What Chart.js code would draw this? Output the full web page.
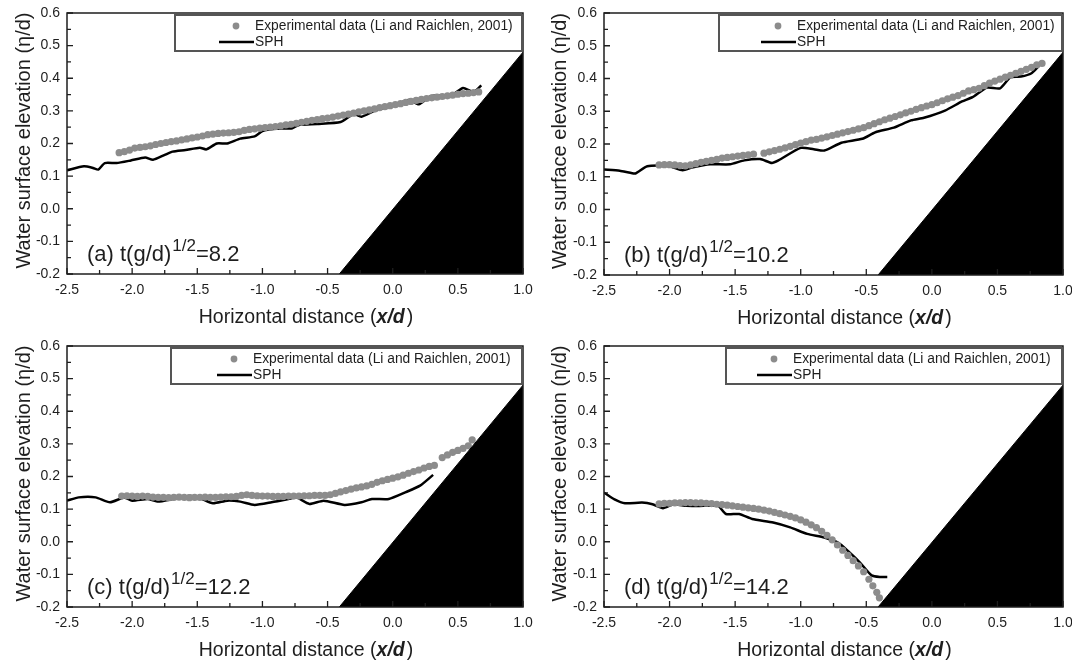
<!DOCTYPE html>
<html>
<head>
<meta charset="utf-8">
<script src="https://cdn.jsdelivr.net/npm/chart.js@4.4.1/dist/chart.umd.min.js"></script>
<style>
html, body { margin: 0; padding: 0; background: #fff; }
#wrap { position: relative; width: 1072px; height: 663px; overflow: hidden; }
.panel { position: absolute; width: 536px; height: 331px; }
</style>
</head>
<body>
<div id="wrap">
  <div class="panel" style="left:0;top:0"><canvas id="pa" width="536" height="331"></canvas></div>
  <div class="panel" style="left:536px;top:0"><canvas id="pb" width="536" height="331"></canvas></div>
  <div class="panel" style="left:0;top:333px"><canvas id="pc" width="536" height="331"></canvas></div>
  <div class="panel" style="left:536px;top:333px"><canvas id="pd" width="536" height="331"></canvas></div>
</div>
<script>
// axis ticks
const xTicks = [-2.5, -2.0, -1.5, -1.0, -0.5, 0.0, 0.5, 1.0];
const yTicks = [-0.2, -0.1, 0.0, 0.1, 0.2, 0.3, 0.4, 0.5, 0.6];

const panelTags = ["(a)", "(b)", "(c)", "(d)"];
const panelTimes = ["8.2", "10.2", "12.2", "14.2"];
const seriesNames = ["Experimental data (Li and Raichlen, 2001)", "SPH"];

// beach slope (same in every panel)
const beachX = [-0.41, 1.0];
const beachY = [-0.2, 0.48];

// (a) t(g/d)^1/2 = 8.2
const expAx = [-2.10,-2.06,-2.02,-1.98,-1.94,-1.90,-1.86,-1.82,-1.78,-1.74,-1.70,-1.66,-1.62,-1.58,-1.54,-1.50,-1.46,-1.42,-1.38,-1.34,
  -1.30,-1.26,-1.22,-1.18,-1.14,-1.10,-1.06,-1.02,-0.98,-0.94,-0.90,-0.86,-0.82,-0.78,-0.74,-0.70,-0.66,-0.62,-0.58,-0.54,
  -0.50,-0.46,-0.42,-0.38,-0.34,-0.30,-0.26,-0.22,-0.18,-0.14,-0.10,-0.06,-0.02,0.02,0.06,0.10,0.14,0.18,0.22,0.26,
  0.30,0.34,0.38,0.42,0.46,0.50,0.54,0.58,0.62,0.66];
const expAy = [0.172,0.175,0.180,0.186,0.188,0.190,0.193,0.197,0.200,0.203,0.206,0.208,0.211,0.214,0.217,0.220,0.223,0.227,0.229,0.231,
  0.232,0.233,0.234,0.236,0.240,0.243,0.245,0.247,0.249,0.250,0.252,0.254,0.257,0.259,0.262,0.265,0.268,0.271,0.273,0.276,
  0.278,0.281,0.284,0.287,0.290,0.293,0.297,0.300,0.303,0.306,0.310,0.313,0.316,0.319,0.322,0.326,0.329,0.332,0.335,0.338,
  0.340,0.342,0.344,0.346,0.348,0.351,0.353,0.354,0.356,0.358];
const sphAx = [-2.50,-2.37,-2.30,-2.26,-2.21,-2.12,-2.01,-1.90,-1.84,-1.75,-1.69,-1.59,-1.48,-1.43,-1.35,-1.27,-1.17,-1.06,-1.00,-0.90,
  -0.77,-0.72,-0.58,-0.40,-0.30,-0.24,-0.14,-0.03,0.06,0.13,0.20,0.29,0.39,0.46,0.54,0.60,0.63,0.68];
const sphAy = [0.118,0.130,0.125,0.120,0.140,0.140,0.148,0.157,0.150,0.165,0.175,0.180,0.187,0.182,0.200,0.200,0.215,0.222,0.238,0.245,
  0.247,0.257,0.260,0.266,0.290,0.282,0.300,0.312,0.325,0.334,0.320,0.345,0.347,0.350,0.370,0.360,0.360,0.378];

// (b) t(g/d)^1/2 = 10.2
const expBx = [-2.08,-2.04,-2.00,-1.96,-1.92,-1.88,-1.84,-1.80,-1.76,-1.72,-1.68,-1.64,-1.60,-1.56,-1.52,-1.48,-1.44,-1.40,-1.36,
  -1.28,-1.24,-1.20,-1.16,-1.12,-1.08,-1.04,-1.00,-0.96,-0.92,-0.88,-0.84,-0.80,-0.76,-0.72,-0.68,-0.64,-0.60,-0.56,-0.52,
  -0.48,-0.44,-0.40,-0.36,-0.32,-0.28,-0.24,-0.20,-0.16,-0.12,-0.08,-0.04,0.00,0.04,0.08,0.12,0.16,0.20,0.24,0.28,
  0.32,0.36,0.40,0.44,0.48,0.52,0.56,0.60,0.64,0.68,0.72,0.76,0.80,0.84];
const expBy = [0.136,0.137,0.137,0.136,0.134,0.133,0.136,0.140,0.144,0.147,0.150,0.153,0.157,0.159,0.161,0.163,0.165,0.167,0.169,
  0.172,0.176,0.180,0.184,0.188,0.193,0.198,0.203,0.207,0.212,0.214,0.218,0.222,0.226,0.230,0.234,0.238,0.242,0.246,0.250,
  0.256,0.262,0.268,0.274,0.279,0.284,0.289,0.295,0.300,0.306,0.311,0.316,0.320,0.326,0.332,0.338,0.343,0.348,0.355,0.362,
  0.366,0.370,0.378,0.386,0.392,0.398,0.404,0.410,0.416,0.422,0.428,0.434,0.442,0.446];
const sphBx = [-2.50,-2.38,-2.30,-2.26,-2.17,-2.01,-1.90,-1.83,-1.69,-1.54,-1.43,-1.31,-1.22,-1.17,-1.00,-0.90,-0.82,-0.69,-0.53,-0.43,
  -0.29,-0.16,-0.06,0.10,0.23,0.31,0.42,0.52,0.60,0.68,0.76,0.82];
const sphBy = [0.122,0.118,0.112,0.110,0.132,0.133,0.120,0.128,0.138,0.138,0.150,0.154,0.142,0.150,0.188,0.184,0.180,0.204,0.216,0.236,
  0.250,0.272,0.280,0.302,0.330,0.343,0.372,0.370,0.404,0.406,0.416,0.440];

// (c) t(g/d)^1/2 = 12.2
const expCx = [-2.08,-2.04,-2.00,-1.96,-1.92,-1.88,-1.84,-1.80,-1.76,-1.72,-1.68,-1.64,-1.60,-1.56,-1.52,-1.48,-1.44,-1.40,-1.36,-1.32,
  -1.28,-1.24,-1.20,-1.16,-1.12,-1.08,-1.04,-1.00,-0.96,-0.92,-0.88,-0.84,-0.80,-0.76,-0.72,-0.68,-0.64,-0.60,-0.56,-0.52,
  -0.48,-0.44,-0.40,-0.36,-0.32,-0.28,-0.24,-0.20,-0.16,-0.12,-0.08,-0.04,0.00,0.04,0.08,0.12,0.16,0.20,0.24,0.28,
  0.32,0.38,0.42,0.46,0.50,0.54,0.58,0.61];
const expCy = [0.140,0.141,0.140,0.139,0.140,0.139,0.137,0.136,0.136,0.135,0.136,0.137,0.136,0.135,0.136,0.136,0.137,0.136,0.136,0.137,
  0.138,0.138,0.139,0.142,0.144,0.142,0.141,0.140,0.140,0.139,0.139,0.139,0.140,0.140,0.140,0.141,0.141,0.142,0.142,0.142,
  0.144,0.148,0.153,0.157,0.161,0.165,0.168,0.171,0.176,0.182,0.187,0.191,0.195,0.199,0.204,0.210,0.215,0.220,0.226,0.231,
  0.234,0.258,0.266,0.274,0.280,0.286,0.294,0.312];
const sphCx = [-2.50,-2.41,-2.28,-2.17,-2.06,-2.00,-1.88,-1.80,-1.69,-1.56,-1.48,-1.38,-1.27,-1.17,-1.06,-0.93,-0.80,-0.74,-0.64,-0.53,
  -0.37,-0.24,-0.16,-0.03,0.10,0.21,0.31];
const sphCy = [0.126,0.136,0.136,0.121,0.136,0.126,0.131,0.123,0.131,0.141,0.134,0.118,0.126,0.123,0.113,0.121,0.131,0.136,0.116,0.126,
  0.113,0.121,0.131,0.131,0.152,0.172,0.205];

// (d) t(g/d)^1/2 = 14.2
const expDx = [-2.08,-2.04,-2.00,-1.96,-1.92,-1.88,-1.84,-1.80,-1.76,-1.72,-1.68,-1.64,-1.60,-1.56,-1.52,-1.48,-1.44,-1.40,-1.36,-1.32,
  -1.28,-1.24,-1.20,-1.16,-1.12,-1.08,-1.04,-1.00,-0.96,-0.92,-0.88,-0.84,-0.80,-0.76,-0.72,-0.68,-0.64,-0.60,-0.56,-0.52,
  -0.48,-0.45,-0.42,-0.40];
const expDy = [0.116,0.118,0.118,0.119,0.119,0.120,0.120,0.119,0.119,0.118,0.117,0.115,0.114,0.112,0.110,0.108,0.106,0.104,0.102,0.100,
  0.097,0.094,0.090,0.086,0.082,0.078,0.073,0.067,0.060,0.052,0.043,0.032,0.020,0.006,-0.010,-0.026,-0.042,-0.058,-0.074,-0.092,
  -0.115,-0.135,-0.155,-0.172];
const sphDx = [-2.50,-2.42,-2.34,-2.21,-2.13,-2.05,-1.97,-1.87,-1.74,-1.63,-1.57,-1.47,-1.37,-1.21,-1.08,-0.95,-0.82,-0.71,-0.63,-0.55,
  -0.46,-0.39,-0.34];
const sphDy = [0.151,0.130,0.118,0.120,0.115,0.103,0.115,0.110,0.110,0.110,0.085,0.085,0.070,0.059,0.044,0.024,0.013,-0.004,-0.032,-0.063,
  -0.103,-0.108,-0.108];

const FONT = "'Liberation Sans', Arial, Helvetica, sans-serif";
const INK = "#1e1e1e";
const DOT = "#8c8c8c";

function zip(xs, ys) {
    return xs.map((x, i) => ({ x: x, y: ys[i] }));
}

function fmt(v) {
    if (Math.abs(v) < 1e-9) return "0.0";
    return v.toFixed(1);
}

// frame, inward ticks, legend, axis titles and panel label
const decorPlugin = {
    id: "decor",
    afterDraw(chart, args, opts) {
        const ctx = chart.ctx;
        const a = chart.chartArea;
        const xs = chart.scales.x;
        const ys = chart.scales.y;
        ctx.save();

        // box
        ctx.strokeStyle = INK;
        ctx.lineWidth = 1.5;
        ctx.strokeRect(a.left, a.top, a.right - a.left, a.bottom - a.top);

        // ticks pointing inside
        ctx.lineWidth = 1.3;
        ctx.beginPath();
        for (let i = 0; i < xTicks.length; i++) {
            const px = xs.getPixelForValue(xTicks[i]);
            ctx.moveTo(px, a.bottom);
            ctx.lineTo(px, a.bottom - 6);
            if (i < xTicks.length - 1) {
                const mx = xs.getPixelForValue((xTicks[i] + xTicks[i + 1]) / 2);
                ctx.moveTo(mx, a.bottom);
                ctx.lineTo(mx, a.bottom - 4);
            }
        }
        for (let i = 0; i < yTicks.length; i++) {
            const py = ys.getPixelForValue(yTicks[i]);
            ctx.moveTo(a.left, py);
            ctx.lineTo(a.left + 6, py);
            if (i < yTicks.length - 1) {
                const my = ys.getPixelForValue((yTicks[i] + yTicks[i + 1]) / 2);
                ctx.moveTo(a.left, my);
                ctx.lineTo(a.left + 4, my);
            }
        }
        ctx.stroke();

        // legend
        const lx = opts.legendLeft;
        const tx0 = opts.legendText;
        const lt = a.top + 2;
        const lr = a.right - 1;
        const lb = a.top + 38;
        ctx.fillStyle = "#fff";
        ctx.fillRect(lx, lt, lr - lx, lb - lt);
        ctx.strokeStyle = "#555";
        ctx.lineWidth = 2;
        ctx.strokeRect(lx, lt, lr - lx, lb - lt);
        ctx.fillStyle = DOT;
        ctx.beginPath();
        ctx.arc(tx0 - 19, lt + 11, 3.4, 0, Math.PI * 2);
        ctx.fill();
        ctx.strokeStyle = "#000";
        ctx.lineWidth = 2.6;
        ctx.beginPath();
        ctx.moveTo(tx0 - 36, lt + 27);
        ctx.lineTo(tx0 - 1, lt + 27);
        ctx.stroke();
        ctx.fillStyle = INK;
        ctx.font = "13.8px " + FONT;
        ctx.textAlign = "left";
        ctx.textBaseline = "middle";
        ctx.fillText(seriesNames[0], tx0, lt + 11);
        ctx.fillText(seriesNames[1], tx0, lt + 27);

        // y axis title
        ctx.save();
        ctx.translate(24, (a.top + a.bottom) / 2 - 3);
        ctx.rotate(-Math.PI / 2);
        ctx.font = "20px " + FONT;
        ctx.textAlign = "center";
        ctx.textBaseline = "middle";
        ctx.fillText("Water surface elevation (\u03b7/d)", 0, 0);
        ctx.restore();

        // x axis title with bold italic x/d
        const p1 = "Horizontal distance (";
        const p2 = "x/d";
        const p3 = ")";
        const fN = "19.5px " + FONT;
        const fB = "italic bold 19.5px " + FONT;
        ctx.font = fN;
        const w1 = ctx.measureText(p1).width;
        const w3 = ctx.measureText(p3).width;
        ctx.font = fB;
        const w2 = ctx.measureText(p2).width;
        let tx = (a.left + a.right) / 2 + 11 - (w1 + w2 + w3 + 2) / 2;
        const ty = a.bottom + 49;
        ctx.textBaseline = "alphabetic";
        ctx.font = fN;
        ctx.fillText(p1, tx, ty);
        ctx.font = fB;
        ctx.fillText(p2, tx + w1, ty);
        ctx.font = fN;
        ctx.fillText(p3, tx + w1 + w2 + 2, ty);

        // panel label t(g/d)^1/2 = ...
        let px = a.left + 20;
        const py = a.bottom - 13;
        const fL = "22px " + FONT;
        const fS = "17px " + FONT;
        ctx.font = fL;
        const s1 = opts.tag + " t(g/d)";
        ctx.fillText(s1, px, py);
        px += ctx.measureText(s1).width + 1;
        ctx.font = fS;
        ctx.fillText("1/2", px, py - 10);
        px += ctx.measureText("1/2").width;
        ctx.font = fL;
        ctx.fillText("=" + opts.time, px, py);

        ctx.restore();
    }
};

function makePanel(canvasId, idx, expX, expY, sphX, sphY, geo) {
    const ctx = document.getElementById(canvasId).getContext("2d");
    return new Chart(ctx, {
        type: "scatter",
        data: {
            datasets: [
                {
                    label: "beach",
                    data: zip(beachX, beachY),
                    showLine: true,
                    fill: "start",
                    backgroundColor: "#000",
                    borderColor: "#000",
                    borderWidth: 1,
                    pointRadius: 0
                },
                {
                    label: seriesNames[0],
                    data: zip(expX, expY),
                    pointRadius: 3.6,
                    pointBackgroundColor: DOT,
                    pointBorderWidth: 0,
                    borderColor: DOT
                },
                {
                    label: seriesNames[1],
                    data: zip(sphX, sphY),
                    showLine: true,
                    tension: 0.2,
                    borderColor: "#000",
                    borderWidth: 2.5,
                    pointRadius: 0
                }
            ]
        },
        options: {
            responsive: false,
            animation: false,
            events: [],
            layout: { padding: { left: 0, right: geo.R, top: 13, bottom: 0 } },
            plugins: {
                legend: { display: false },
                tooltip: { enabled: false },
                decor: {
                    legendLeft: geo.legendLeft,
                    legendText: geo.legendText,
                    tag: panelTags[idx],
                    time: panelTimes[idx]
                }
            },
            scales: {
                x: {
                    type: "linear",
                    min: xTicks[0],
                    max: xTicks[xTicks.length - 1],
                    grid: { display: false, drawTicks: false },
                    border: { display: false },
                    afterBuildTicks: s => { s.ticks = xTicks.map(v => ({ value: v })); },
                    afterFit: s => {
                        s.height = geo.H;
                        s.paddingLeft = 0;
                        s.paddingRight = 0;
                    },
                    ticks: {
                        autoSkip: false,
                        maxRotation: 0,
                        padding: 8,
                        color: INK,
                        font: { family: FONT, size: 14 },
                        callback: v => fmt(v)
                    }
                },
                y: {
                    type: "linear",
                    min: yTicks[0],
                    max: yTicks[yTicks.length - 1],
                    grid: { display: false, drawTicks: false },
                    border: { display: false },
                    afterBuildTicks: s => { s.ticks = yTicks.map(v => ({ value: v })); },
                    afterFit: s => {
                        s.width = geo.L;
                        s.paddingTop = 0;
                        s.paddingBottom = 0;
                    },
                    ticks: {
                        padding: 7,
                        color: INK,
                        font: { family: FONT, size: 14 },
                        callback: v => fmt(v)
                    }
                }
            }
        },
        plugins: [decorPlugin]
    });
}

makePanel("pa", 0, expAx, expAy, sphAx, sphAy, { L: 67, R: 13, H: 57, legendLeft: 175, legendText: 255 });
makePanel("pb", 1, expBx, expBy, sphBx, sphBy, { L: 68, R: 9, H: 56, legendLeft: 183, legendText: 261 });
makePanel("pc", 2, expCx, expCy, sphCx, sphCy, { L: 67, R: 13, H: 57, legendLeft: 171, legendText: 253 });
makePanel("pd", 3, expDx, expDy, sphDx, sphDy, { L: 68, R: 9, H: 57, legendLeft: 190, legendText: 257 });
</script>
</body>
</html>
